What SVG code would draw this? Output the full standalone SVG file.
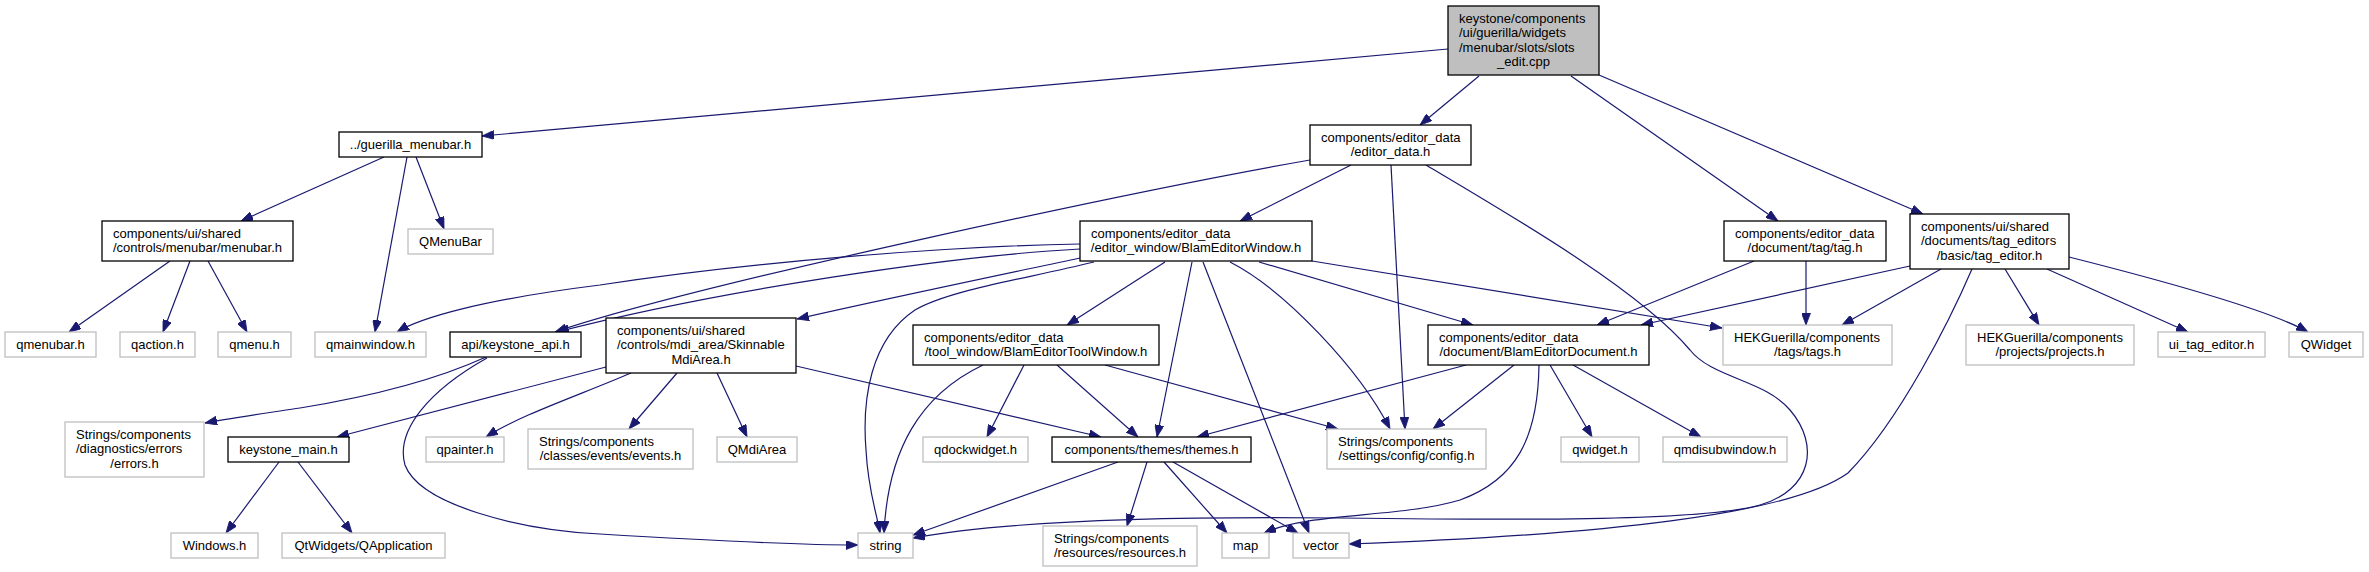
<svg xmlns="http://www.w3.org/2000/svg" width="2369" height="572" viewBox="0 0 2369 572">
<style>
text{font-family:"Liberation Sans",Arial,Helvetica,sans-serif;font-size:13px;fill:#000}
.c{text-anchor:middle}
.n rect{fill:#fff;stroke:#000;stroke-width:1.3}
.g rect{fill:#fff;stroke:#bfbfbf;stroke-width:1.3}
.m rect{fill:#bfbfbf;stroke:#000;stroke-width:1.3}
#edges path{fill:none;stroke:#191970;stroke-width:1.2;marker-end:url(#a)}
</style>
<defs>
<marker id="a" markerUnits="userSpaceOnUse" markerWidth="12" markerHeight="9" viewBox="0 0 12 9" refX="12" refY="4.5" orient="auto">
<path d="M0,0 L12,4.5 L0,9 z" fill="#191970" stroke="#191970" stroke-width="0.8"/>
</marker>
</defs>
<rect width="2369" height="572" fill="#fff"/>
<g id="edges">
<path d="M1448,49 L482,136"/>
<path d="M1479,76 L1420,125"/>
<path d="M1571,76 L1778,221"/>
<path d="M1599,75 L1923,214"/>
<path d="M384,157 L241,221"/>
<path d="M407,157 L375,332"/>
<path d="M416,157 L444,229"/>
<path d="M170,261 L69,332"/>
<path d="M190,261 L163,332"/>
<path d="M208,261 L247,332"/>
<path d="M1351,165 L1240,221"/>
<path d="M1310,160 C1150,188 700,283 555,332"/>
<path d="M1391,165 L1405,429"/>
<path d="M1426,165 C1510,215 1640,290 1690,350 C1712,378 1765,380 1790,410 C1820,445 1812,490 1760,505 C1700,522 1500,520 1340,518 C1150,516 1000,522 913,538"/>
<path d="M1972,269 C1950,320 1900,420 1848,473 C1790,515 1600,535 1349,544"/>
<path d="M1910,266 L1641,325"/>
<path d="M1941,269 L1842,325"/>
<path d="M2005,269 L2039,325"/>
<path d="M2047,269 L2188,332"/>
<path d="M2069,257 C2160,280 2270,310 2308,332"/>
<path d="M1754,261 L1597,325"/>
<path d="M1806,261 L1806,325"/>
<path d="M1080,244 C950,246 750,262 600,285 C480,300 420,318 397,332"/>
<path d="M1080,249 C950,256 720,290 557,332"/>
<path d="M1080,258 C1000,275 880,300 797,319"/>
<path d="M1094,262 C1020,280 950,290 915,310 C870,340 862,400 866,450 C868,490 876,510 880,533"/>
<path d="M1165,262 L1067,325"/>
<path d="M1192,262 L1157,437"/>
<path d="M1203,262 L1309,533"/>
<path d="M1230,262 C1285,290 1360,370 1390,429"/>
<path d="M1259,262 L1473,325"/>
<path d="M1312,261 L1722,328"/>
<path d="M983,365 C920,395 888,450 884,533"/>
<path d="M1024,365 L987,437"/>
<path d="M1057,365 L1138,437"/>
<path d="M1105,365 L1338,429"/>
<path d="M606,367 L337,437"/>
<path d="M631,373 C580,395 520,415 486,437"/>
<path d="M677,373 L629,429"/>
<path d="M717,373 L747,437"/>
<path d="M796,366 L1101,437"/>
<path d="M486,357 C440,378 380,395 300,408 C260,414 225,419 205,423"/>
<path d="M487,358 C430,390 395,430 405,465 C420,505 520,530 600,534 C700,540 800,545 858,545"/>
<path d="M279,462 L226,533"/>
<path d="M298,462 L352,533"/>
<path d="M1118,462 L913,535"/>
<path d="M1147,462 L1127,526"/>
<path d="M1164,462 L1227,533"/>
<path d="M1173,462 L1298,533"/>
<path d="M1466,365 L1197,437"/>
<path d="M1514,365 L1433,429"/>
<path d="M1539,365 C1538,440 1515,480 1460,500 C1400,518 1310,512 1264,533"/>
<path d="M1550,365 L1592,437"/>
<path d="M1573,365 L1701,437"/>
</g>
<g id="main" class="m"><rect x="1448" y="6" width="151" height="69"/><text x="1459" y="22.5">keystone/components</text><text x="1459" y="37">/ui/guerilla/widgets</text><text x="1459" y="51.5">/menubar/slots/slots</text><text class="c" x="1523.5" y="66">_edit.cpp</text></g>
<g id="guerilla_menubar" class="n"><rect x="339" y="132" width="143" height="25"/><text class="c" x="410.5" y="148.5">../guerilla_menubar.h</text></g>
<g id="editor_data" class="n"><rect x="1310" y="125" width="161" height="40"/><text x="1321" y="141.5">components/editor_data</text><text class="c" x="1390.5" y="156">/editor_data.h</text></g>
<g id="tag" class="n"><rect x="1724" y="221" width="162" height="40"/><text x="1735" y="237.5">components/editor_data</text><text class="c" x="1805" y="252">/document/tag/tag.h</text></g>
<g id="tag_editor" class="n"><rect x="1910" y="214" width="159" height="55"/><text x="1921" y="230.5">components/ui/shared</text><text x="1921" y="245">/documents/tag_editors</text><text class="c" x="1989.5" y="259.5">/basic/tag_editor.h</text></g>
<g id="menubar" class="n"><rect x="102" y="221" width="191" height="40"/><text x="113" y="237.5">components/ui/shared</text><text class="c" x="197.5" y="252">/controls/menubar/menubar.h</text></g>
<g id="QMenuBar" class="g"><rect x="408" y="229" width="85" height="25"/><text class="c" x="450.5" y="245.5">QMenuBar</text></g>
<g id="BlamEditorWindow" class="n"><rect x="1080" y="221" width="232" height="40"/><text x="1091" y="237.5">components/editor_data</text><text class="c" x="1196" y="252">/editor_window/BlamEditorWindow.h</text></g>
<g id="qmenubar" class="g"><rect x="5" y="332" width="91" height="25"/><text class="c" x="50.5" y="348.5">qmenubar.h</text></g>
<g id="qaction" class="g"><rect x="120" y="332" width="75" height="25"/><text class="c" x="157.5" y="348.5">qaction.h</text></g>
<g id="qmenu" class="g"><rect x="218" y="332" width="73" height="25"/><text class="c" x="254.5" y="348.5">qmenu.h</text></g>
<g id="qmainwindow" class="g"><rect x="315" y="332" width="111" height="25"/><text class="c" x="370.5" y="348.5">qmainwindow.h</text></g>
<g id="keystone_api" class="n"><rect x="450" y="332" width="131" height="25"/><text class="c" x="515.5" y="348.5">api/keystone_api.h</text></g>
<g id="errors" class="g"><rect x="65" y="422" width="139" height="55"/><text x="76" y="438.5">Strings/components</text><text x="76" y="453">/diagnostics/errors</text><text class="c" x="134.5" y="467.5">/errors.h</text></g>
<g id="keystone_main" class="n"><rect x="228" y="437" width="121" height="25"/><text class="c" x="288.5" y="453.5">keystone_main.h</text></g>
<g id="Windows" class="g"><rect x="171" y="533" width="87" height="25"/><text class="c" x="214.5" y="549.5">Windows.h</text></g>
<g id="QApplication" class="g"><rect x="282" y="533" width="163" height="25"/><text class="c" x="363.5" y="549.5">QtWidgets/QApplication</text></g>
<g id="SkinnableMdiArea" class="n"><rect x="606" y="318" width="190" height="55"/><text x="617" y="334.5">components/ui/shared</text><text x="617" y="349">/controls/mdi_area/Skinnable</text><text class="c" x="701" y="363.5">MdiArea.h</text></g>
<g id="qpainter" class="g"><rect x="426" y="437" width="78" height="25"/><text class="c" x="465" y="453.5">qpainter.h</text></g>
<g id="events" class="g"><rect x="528" y="429" width="165" height="40"/><text x="539" y="445.5">Strings/components</text><text class="c" x="610.5" y="460">/classes/events/events.h</text></g>
<g id="QMdiArea" class="g"><rect x="717" y="437" width="80" height="25"/><text class="c" x="757" y="453.5">QMdiArea</text></g>
<g id="BlamEditorToolWindow" class="n"><rect x="913" y="325" width="246" height="40"/><text x="924" y="341.5">components/editor_data</text><text class="c" x="1036" y="356">/tool_window/BlamEditorToolWindow.h</text></g>
<g id="qdockwidget" class="g"><rect x="923" y="437" width="105" height="25"/><text class="c" x="975.5" y="453.5">qdockwidget.h</text></g>
<g id="themes" class="n"><rect x="1052" y="437" width="199" height="25"/><text class="c" x="1151.5" y="453.5">components/themes/themes.h</text></g>
<g id="string" class="g"><rect x="858" y="533" width="55" height="25"/><text class="c" x="885.5" y="549.5">string</text></g>
<g id="resources" class="g"><rect x="1043" y="526" width="154" height="40"/><text x="1054" y="542.5">Strings/components</text><text class="c" x="1120" y="557">/resources/resources.h</text></g>
<g id="map" class="g"><rect x="1222" y="533" width="47" height="25"/><text class="c" x="1245.5" y="549.5">map</text></g>
<g id="vector" class="g"><rect x="1293" y="533" width="56" height="25"/><text class="c" x="1321" y="549.5">vector</text></g>
<g id="BlamEditorDocument" class="n"><rect x="1428" y="325" width="221" height="40"/><text x="1439" y="341.5">components/editor_data</text><text class="c" x="1538.5" y="356">/document/BlamEditorDocument.h</text></g>
<g id="config" class="g"><rect x="1327" y="429" width="159" height="40"/><text x="1338" y="445.5">Strings/components</text><text class="c" x="1406.5" y="460">/settings/config/config.h</text></g>
<g id="qwidget" class="g"><rect x="1561" y="437" width="78" height="25"/><text class="c" x="1600" y="453.5">qwidget.h</text></g>
<g id="qmdisubwindow" class="g"><rect x="1663" y="437" width="124" height="25"/><text class="c" x="1725" y="453.5">qmdisubwindow.h</text></g>
<g id="tags" class="g"><rect x="1723" y="325" width="169" height="40"/><text x="1734" y="341.5">HEKGuerilla/components</text><text class="c" x="1807.5" y="356">/tags/tags.h</text></g>
<g id="projects" class="g"><rect x="1966" y="325" width="168" height="40"/><text x="1977" y="341.5">HEKGuerilla/components</text><text class="c" x="2050" y="356">/projects/projects.h</text></g>
<g id="ui_tag_editor" class="g"><rect x="2158" y="332" width="107" height="25"/><text class="c" x="2211.5" y="348.5">ui_tag_editor.h</text></g>
<g id="QWidget" class="g"><rect x="2289" y="332" width="74" height="25"/><text class="c" x="2326" y="348.5">QWidget</text></g>
</svg>
